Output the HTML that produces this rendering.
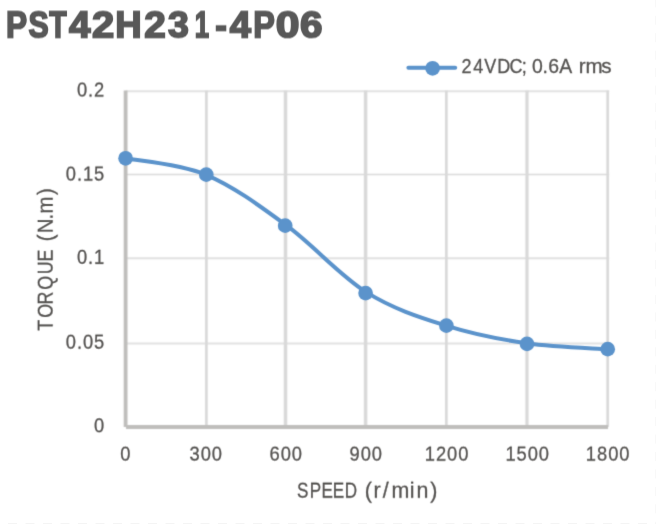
<!DOCTYPE html>
<html lang="en">
<head>
<meta charset="utf-8">
<title>PST42H231-4P06</title>
<style>
html,body{margin:0;padding:0;background:#fff;}
body{width:656px;height:524px;overflow:hidden;font-family:"Liberation Sans",sans-serif;}
svg{display:block;}
</style>
</head>
<body>
<svg width="656" height="524" viewBox="0 0 656 524">
<defs>
<filter id="f0" x="-5%" y="-5%" width="110%" height="110%" color-interpolation-filters="sRGB"><feConvolveMatrix order="3" kernelMatrix="0.0260 0.4680 0.0260 0.0230 0.4140 0.0230 0.0010 0.0180 0.0010" divisor="1" edgeMode="none"/></filter>
<filter id="f1" x="-5%" y="-5%" width="110%" height="110%" color-interpolation-filters="sRGB"><feConvolveMatrix order="3" kernelMatrix="0.0324 0.1152 0.0324 0.1152 0.4096 0.1152 0.0324 0.1152 0.0324" divisor="1" edgeMode="none"/></filter>
<filter id="f2" x="-5%" y="-5%" width="110%" height="110%" color-interpolation-filters="sRGB"><feConvolveMatrix order="3" kernelMatrix="0.0144 0.0912 0.0144 0.0912 0.5776 0.0912 0.0144 0.0912 0.0144" divisor="1" edgeMode="none"/></filter>
<filter id="f3" x="-5%" y="-5%" width="110%" height="110%" color-interpolation-filters="sRGB"><feConvolveMatrix order="3" kernelMatrix="0.0024 0.0152 0.0024 0.0792 0.5016 0.0792 0.0384 0.2432 0.0384" divisor="1" edgeMode="none"/></filter>
<filter id="f4" x="-5%" y="-5%" width="110%" height="110%" color-interpolation-filters="sRGB"><feConvolveMatrix order="3" kernelMatrix="0.0384 0.2432 0.0384 0.0792 0.5016 0.0792 0.0024 0.0152 0.0024" divisor="1" edgeMode="none"/></filter>
<filter id="f5" x="-5%" y="-5%" width="110%" height="110%" color-interpolation-filters="sRGB"><feConvolveMatrix order="3" kernelMatrix="0.0264 0.1672 0.0264 0.0912 0.5776 0.0912 0.0024 0.0152 0.0024" divisor="1" edgeMode="none"/></filter>
<filter id="f6" x="-5%" y="-5%" width="110%" height="110%" color-interpolation-filters="sRGB"><feConvolveMatrix order="3" kernelMatrix="0.0504 0.3192 0.0504 0.0672 0.4256 0.0672 0.0024 0.0152 0.0024" divisor="1" edgeMode="none"/></filter>
<filter id="f7" x="-5%" y="-5%" width="110%" height="110%" color-interpolation-filters="sRGB"><feConvolveMatrix order="3" kernelMatrix="0.0564 0.3572 0.0564 0.0612 0.3876 0.0612 0.0024 0.0152 0.0024" divisor="1" edgeMode="none"/></filter>
<filter id="f8" x="-5%" y="-5%" width="110%" height="110%" color-interpolation-filters="sRGB"><feConvolveMatrix order="3" kernelMatrix="0.0444 0.2812 0.0444 0.0732 0.4636 0.0732 0.0024 0.0152 0.0024" divisor="1" edgeMode="none"/></filter>
<filter id="f9" x="-5%" y="-5%" width="110%" height="110%" color-interpolation-filters="sRGB"><feConvolveMatrix order="3" kernelMatrix="0.0384 0.0792 0.0024 0.2432 0.5016 0.0152 0.0384 0.0792 0.0024" divisor="1" edgeMode="none"/></filter>
</defs>
<rect width="656" height="524" fill="#fff"/>
<line x1="655.5" y1="-1.7" x2="655.5" y2="524" stroke="#f8f8f8" stroke-width="1" stroke-dasharray="9 8.45"/>
<line x1="8" y1="523.5" x2="656" y2="523.5" stroke="#f4f4f4" stroke-width="1" stroke-dasharray="9 8.5"/>
<g filter="url(#f0)">
<text aria-label="PST42H231-4P06" transform="scale(1,0.9640)" y="39.419" font-family="Liberation Sans, sans-serif" font-weight="bold" font-size="38.00" fill="#585858" stroke="#585858" stroke-width="1.80"><tspan x="6.01" textLength="21.13" lengthAdjust="spacingAndGlyphs">P</tspan><tspan x="28.44" textLength="20.21" lengthAdjust="spacingAndGlyphs">S</tspan><tspan x="49.17" textLength="17.39" lengthAdjust="spacingAndGlyphs">T</tspan><tspan x="68.97" textLength="21.52" lengthAdjust="spacingAndGlyphs">4</tspan><tspan x="91.95" textLength="22.25" lengthAdjust="spacingAndGlyphs">2</tspan><tspan x="115.38" textLength="26.43" lengthAdjust="spacingAndGlyphs">H</tspan><tspan x="144.19" textLength="21.55" lengthAdjust="spacingAndGlyphs">2</tspan><tspan x="168.10" textLength="20.91" lengthAdjust="spacingAndGlyphs">3</tspan><tspan x="194.84" textLength="14.35" lengthAdjust="spacingAndGlyphs">1</tspan><tspan x="215.36" textLength="11.61" lengthAdjust="spacingAndGlyphs">-</tspan><tspan x="229.78" textLength="21.21" lengthAdjust="spacingAndGlyphs">4</tspan><tspan x="253.36" textLength="21.60" lengthAdjust="spacingAndGlyphs">P</tspan><tspan x="275.64" textLength="23.77" lengthAdjust="spacingAndGlyphs">0</tspan><tspan x="300.13" textLength="22.48" lengthAdjust="spacingAndGlyphs">6</tspan></text>
</g>
<g filter="url(#f1)">
<line x1="125.60" y1="91.35" x2="609.20" y2="91.35" stroke="#e2e2e2" stroke-width="2.00"/>
<line x1="125.60" y1="174.50" x2="609.20" y2="174.50" stroke="#d9d9d9" stroke-width="1.50"/>
<line x1="125.60" y1="258.25" x2="609.20" y2="258.25" stroke="#e0e0e0" stroke-width="2.00"/>
<line x1="125.60" y1="343.60" x2="609.20" y2="343.60" stroke="#e2e2e2" stroke-width="2.00"/>
<line x1="206.40" y1="90.40" x2="206.40" y2="427.05" stroke="#d9d9d9" stroke-width="2.70"/>
<line x1="285.50" y1="90.40" x2="285.50" y2="427.05" stroke="#d9d9d9" stroke-width="3.50"/>
<line x1="365.60" y1="90.40" x2="365.60" y2="427.05" stroke="#d9d9d9" stroke-width="3.50"/>
<line x1="446.35" y1="90.40" x2="446.35" y2="427.05" stroke="#d9d9d9" stroke-width="2.70"/>
<line x1="527.00" y1="90.40" x2="527.00" y2="427.05" stroke="#d9d9d9" stroke-width="3.20"/>
<line x1="607.70" y1="90.40" x2="607.70" y2="427.05" stroke="#d9d9d9" stroke-width="2.70"/>
<line x1="125.60" y1="90.40" x2="125.60" y2="427.05" stroke="#bfbebc" stroke-width="3.80"/>
<line x1="126.00" y1="427.05" x2="608.00" y2="427.05" stroke="#bfbebc" stroke-width="4.10"/>
</g>
<g filter="url(#f2)">
<path d="M125.60,158.30 C139.00,161.05 179.23,163.65 206.00,174.80 C232.77,185.95 259.43,205.60 286.20,225.20 C312.97,244.80 339.82,275.62 366.60,292.40 C393.38,309.18 420.17,317.42 446.90,325.90 C473.63,334.38 500.20,339.40 527.00,343.30 C553.80,347.20 594.25,348.30 607.70,349.30" fill="none" stroke="#5b93cb" stroke-width="4" stroke-linecap="round" stroke-linejoin="round"/>
<circle cx="125.60" cy="158.30" r="7.35" fill="#5b93cb"/>
<circle cx="206.30" cy="174.66" r="7.35" fill="#5b93cb"/>
<circle cx="285.20" cy="225.66" r="7.35" fill="#5b93cb"/>
<circle cx="365.60" cy="293.10" r="7.35" fill="#5b93cb"/>
<circle cx="446.40" cy="325.66" r="7.35" fill="#5b93cb"/>
<circle cx="527.00" cy="343.84" r="7.35" fill="#5b93cb"/>
<circle cx="607.70" cy="349.15" r="7.35" fill="#5b93cb"/>
<line x1="408.4" y1="67.8" x2="455.2" y2="67.8" stroke="#5b93cb" stroke-width="4" stroke-linecap="round"/>
<circle cx="432.6" cy="68.3" r="7.35" fill="#5b93cb"/>
</g>
<g filter="url(#f2)">
<text transform="scale(0.910,1)" x="507.25 520.05 532.05 546.48 559.78 573.24" y="73.00" font-family="Liberation Sans, sans-serif" font-size="19.80" fill="#565452" stroke="#565452" stroke-width="0.30">24VDC;</text>
<text transform="scale(0.980,1)" x="542.82 553.68 559.48 570.59" y="73.00" font-family="Liberation Sans, sans-serif" font-size="19.80" fill="#565452" stroke="#565452" stroke-width="0.30">0.6A</text>
<text transform="scale(1.040,1)" x="556.48 562.98 578.06" y="73.00" font-family="Liberation Sans, sans-serif" font-size="19.80" fill="#565452" stroke="#565452" stroke-width="0.30">rms</text>
</g>
<g filter="url(#f3)">
<text transform="translate(105.25,432.00) scale(0.940,1)" font-family="Liberation Sans, sans-serif" font-size="19.50" fill="#565452" stroke="#565452" stroke-width="0.30" letter-spacing="1.01" text-anchor="end">0</text>
</g>
<g filter="url(#f4)">
<text transform="translate(105.25,349.00) scale(0.940,1)" font-family="Liberation Sans, sans-serif" font-size="19.50" fill="#565452" stroke="#565452" stroke-width="0.30" letter-spacing="1.01" text-anchor="end">0.05</text>
</g>
<g filter="url(#f5)">
<text transform="translate(105.25,264.00) scale(0.940,1)" font-family="Liberation Sans, sans-serif" font-size="19.50" fill="#565452" stroke="#565452" stroke-width="0.30" letter-spacing="1.01" text-anchor="end">0.1</text>
</g>
<g filter="url(#f6)">
<text transform="translate(105.25,181.00) scale(0.940,1)" font-family="Liberation Sans, sans-serif" font-size="19.50" fill="#565452" stroke="#565452" stroke-width="0.30" letter-spacing="1.01" text-anchor="end">0.15</text>
</g>
<g filter="url(#f7)">
<text transform="translate(105.25,97.00) scale(0.940,1)" font-family="Liberation Sans, sans-serif" font-size="19.50" fill="#565452" stroke="#565452" stroke-width="0.30" letter-spacing="1.01" text-anchor="end">0.2</text>
</g>
<g filter="url(#f8)">
<text transform="translate(125.82,461.00) scale(0.940,1)" font-family="Liberation Sans, sans-serif" font-size="19.50" fill="#565452" stroke="#565452" stroke-width="0.30" letter-spacing="1.01" text-anchor="middle">0</text>
<text transform="translate(206.28,461.00) scale(0.940,1)" font-family="Liberation Sans, sans-serif" font-size="19.50" fill="#565452" stroke="#565452" stroke-width="0.30" letter-spacing="1.01" text-anchor="middle">300</text>
<text transform="translate(286.28,461.00) scale(0.940,1)" font-family="Liberation Sans, sans-serif" font-size="19.50" fill="#565452" stroke="#565452" stroke-width="0.30" letter-spacing="1.01" text-anchor="middle">600</text>
<text transform="translate(366.28,461.00) scale(0.940,1)" font-family="Liberation Sans, sans-serif" font-size="19.50" fill="#565452" stroke="#565452" stroke-width="0.30" letter-spacing="1.01" text-anchor="middle">900</text>
<text transform="translate(447.03,461.00) scale(0.940,1)" font-family="Liberation Sans, sans-serif" font-size="19.50" fill="#565452" stroke="#565452" stroke-width="0.30" letter-spacing="1.01" text-anchor="middle">1200</text>
<text transform="translate(527.68,461.00) scale(0.940,1)" font-family="Liberation Sans, sans-serif" font-size="19.50" fill="#565452" stroke="#565452" stroke-width="0.30" letter-spacing="1.01" text-anchor="middle">1500</text>
<text transform="translate(608.12,461.00) scale(0.940,1)" font-family="Liberation Sans, sans-serif" font-size="19.50" fill="#565452" stroke="#565452" stroke-width="0.30" letter-spacing="1.01" text-anchor="middle">1800</text>
</g>
<g filter="url(#f4)">
<text transform="scale(0.800,1)" x="371.32 387.07 401.80 415.87 430.96" y="498.00" font-family="Liberation Sans, sans-serif" font-size="21.40" fill="#565452" stroke="#565452" stroke-width="0.30">SPEED</text>
<text transform="scale(1.000,1)" x="364.73 373.38 382.83 391.49 409.67 416.53 430.13" y="498.00" font-family="Liberation Sans, sans-serif" font-size="21.40" fill="#565452" stroke="#565452" stroke-width="0.30">(r/min)</text>
</g>
<g filter="url(#f9)">
<text transform="translate(53.00,0) rotate(-90) scale(0.834,1)" x="-396.71 -380.98 -365.00 -347.57 -328.75 -313.54" y="0.00" font-family="Liberation Sans, sans-serif" font-size="21.40" fill="#565452" stroke="#565452" stroke-width="0.30">TORQUE</text>
<text transform="translate(53.00,0) rotate(-90) scale(0.950,1)" x="-253.83 -245.52 -231.02 -224.67 -205.29" y="0.00" font-family="Liberation Sans, sans-serif" font-size="21.40" fill="#565452" stroke="#565452" stroke-width="0.30">(N.m)</text>
</g>
</svg>
</body>
</html>
